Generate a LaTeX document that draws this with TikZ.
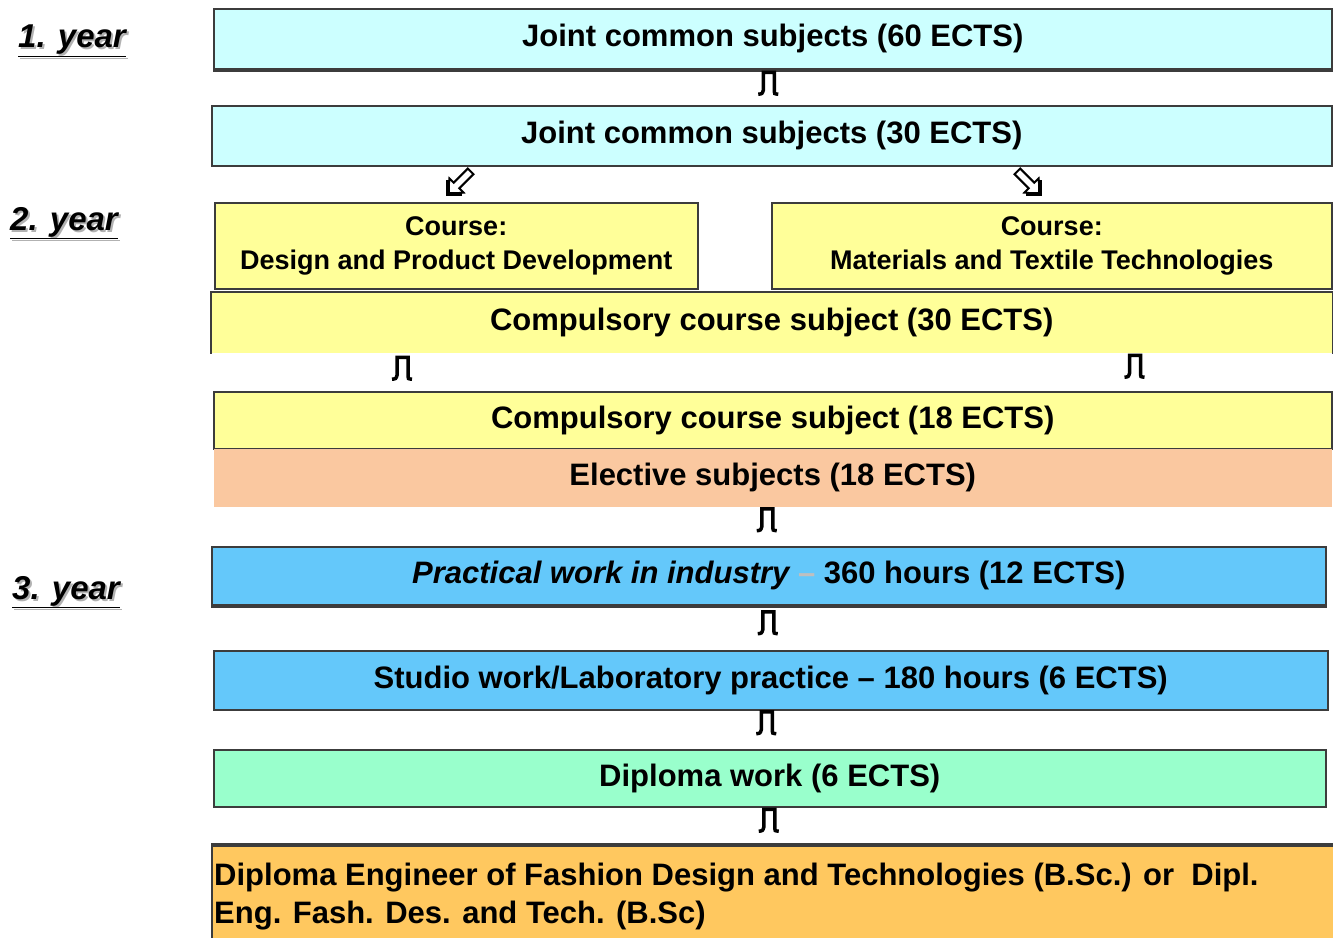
\documentclass[tikz,border=0pt]{standalone}
\usepackage{fontspec}
\setmainfont{Liberation Sans}
\usetikzlibrary{calc}
\definecolor{cyanbox}{RGB}{204,255,255}
\definecolor{yellowbox}{RGB}{255,255,153}
\definecolor{peachbox}{RGB}{250,200,160}
\definecolor{bluebox}{RGB}{100,200,250}
\definecolor{mintbox}{RGB}{153,255,204}
\definecolor{orangebox}{RGB}{255,200,95}
\definecolor{edgecol}{RGB}{60,60,60}
\tikzset{
  box/.style={draw=edgecol, line width=1.5pt, inner sep=0pt, anchor=north west,
    font=\fontsize{31}{36}\selectfont\bfseries},
  coursebox/.style={box, font=\fontsize{27}{32}\selectfont\bfseries, align=center},
  yearlbl/.style={inner sep=0pt, anchor=west, font=\fontsize{33}{38}\selectfont\bfseries\itshape},
  shadowline/.style={draw=edgecol, line width=4pt},
  hollowarrow/.style={draw=black, line width=2pt, fill=white, line join=miter},
  dnglyph/.pic={
    \draw[line width=3.5pt, line join=miter]
      (-10,12) .. controls (-6,11.5) .. (-5,8) -- (-5,-10) -- (6,-10) -- (6,9)
      .. controls (6,11.5) .. (10,12);
  }
}
\begin{document}
\begin{tikzpicture}[x=1pt,y=-1pt]
\useasboundingbox (0,0) rectangle (1333,937);

% year labels
\foreach \t/\xx/\yy/\nm in {1. year/18/41/ya, 2. year/10/223/yb, 3. year/12/592/yc}{
  \node[yearlbl, text=gray!60] at (\xx+2,\yy+2) {\underline{\t}};
  \node[yearlbl] (\nm) at (\xx,\yy) {\underline{\t}};
}

% boxes
\node[box, fill=cyanbox, minimum width=1118, minimum height=60] (j60) at (213,8)
  {Joint common subjects (60 ECTS)};
\draw[shadowline] (j60.south west) -- (j60.south east);
\node[box, fill=cyanbox, minimum width=1120, minimum height=60] (j30) at (211,105)
  {Joint common subjects (30 ECTS)};

\node[coursebox, fill=yellowbox, minimum width=483, minimum height=86] (cdp) at (214,202)
  {Course:\\[2pt]Design and Product Development};
\node[coursebox, fill=yellowbox, minimum width=560, minimum height=86] (cmt) at (771,202)
  {Course:\\[2pt]Materials and Textile Technologies};

\node[box, fill=yellowbox, draw=none, minimum width=1120, minimum height=60] (c30) at (211,292)
  {Compulsory course subject (30 ECTS)};
\draw[draw=edgecol, line width=1.5pt] (c30.south west) -- (c30.north west) -- (c30.north east) -- (c30.south east);

\node[box, fill=yellowbox, minimum width=1118, minimum height=57] (c18) at (213,391)
  {Compulsory course subject (18 ECTS)};
\node[box, fill=peachbox, draw=none, minimum width=1118, minimum height=58] (el) at (213,448)
  {Elective subjects (18 ECTS)};

\node[box, fill=bluebox, minimum width=1114, minimum height=58] (pw) at (211,546)
  {{\itshape Practical work in industry} {\color{gray!50}--} 360 hours (12 ECTS)};
\draw[shadowline] (pw.south west) -- (pw.south east);
\node[box, fill=bluebox, minimum width=1114, minimum height=59] (sw) at (213,650)
  {Studio work/Laboratory practice -- 180 hours (6 ECTS)};
\node[box, fill=mintbox, minimum width=1112, minimum height=57] (dw) at (213,749)
  {Diploma work (6 ECTS)};
\node[box, fill=orangebox, minimum width=1124, minimum height=100] (deg) at (211,845) {};
\draw[shadowline] (deg.north west) -- (deg.north east);
\node[anchor=north west, align=left, inner sep=0pt, font=\fontsize{31}{38}\selectfont\bfseries] (degt)
  at ($(deg.north west)+(3,18)$)
  {Diploma Engineer of Fashion Design and Technologies (B.Sc.) or\ \ Dipl.\\
   Eng. Fash. Des. and Tech. (B.Sc)};

% glyph connectors
\pic at ($(j60.south)!0.5!(j30.north)+(-4,-5)$) {dnglyph};
\pic at ($(c30.south west)!0.5!(c18.north west)+(190,-5)$) {dnglyph};
\pic at ($(c30.south east)!0.5!(c18.north east)+(-198,-7)$) {dnglyph};
\pic at ($(el.south)!0.5!(pw.north)+(-4,-8)$) {dnglyph};
\pic at ($(pw.south)!0.5!(sw.north)+(-2,-6)$) {dnglyph};
\pic at ($(sw.south)!0.5!(dw.north)+(-4,-8)$) {dnglyph};
\pic at ($(dw.south)!0.5!(deg.north)+(-3,-7)$) {dnglyph};

% hollow arrows from j30 to course boxes
\coordinate (tl) at ($(cdp.north west)+(234,-8)$);
\coordinate (tr) at ($(cmt.north west)+(269,-8)$);
\draw[hollowarrow] (tl) -- ++(15.6,-1.4) -- ++(-4.3,-4.3) -- ++(14.1,-14.1) -- ++(-5.6,-5.6)
  -- ++(-14.1,14.1) -- ++(-4.3,-4.3) -- cycle;
\draw[line width=3.5pt] ($(tl)+(14,0)$) -- (tl) -- ($(tl)+(0,-14)$);
\draw[hollowarrow] (tr) -- ++(-15.6,-1.4) -- ++(4.3,-4.3) -- ++(-14.1,-14.1) -- ++(5.6,-5.6)
  -- ++(14.1,14.1) -- ++(4.3,-4.3) -- cycle;
\draw[line width=3.5pt] ($(tr)+(-14,0)$) -- (tr) -- ($(tr)+(0,-14)$);
\end{tikzpicture}
\end{document}
